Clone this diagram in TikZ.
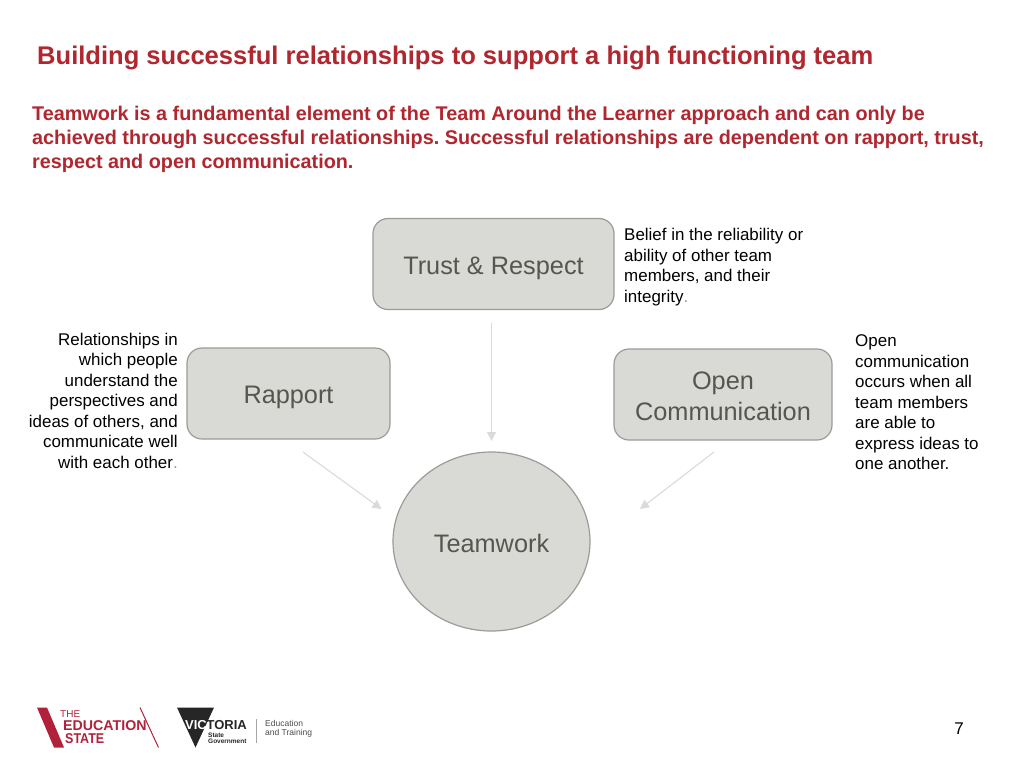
\documentclass[tikz,border=0pt]{standalone}
\usepackage{fontspec}
\setmainfont{Liberation Sans}
\newfontfamily\logonarrow[FakeStretch=0.88]{Liberation Sans}
\usetikzlibrary{arrows.meta}
\definecolor{tred}{HTML}{B0272F}
\definecolor{boxfill}{HTML}{D9DAD6}
\definecolor{boxline}{HTML}{9B9B98}
\definecolor{boxtext}{HTML}{54564F}
\definecolor{arrowc}{HTML}{DADBD8}
\definecolor{logored}{HTML}{B2213A}
\newcommand{\fs}[2]{\fontsize{#1pt}{#2pt}\selectfont}
\tikzset{
  x=1pt,y=-1pt,
  title/.style={anchor=base west,inner sep=0pt,text=tred,font=\bfseries\fs{25.55}{30}},
  lead/.style={anchor=base west,inner sep=0pt,text=tred,font=\bfseries\fs{19.8}{24}},
  rbox/.style={draw=boxline,line width=1.2pt,fill=boxfill,rounded corners=15pt,inner sep=0pt},
  boxlabel/.style={inner sep=0pt,text=boxtext,font=\fs{25.3}{30.5},anchor=base},
  note/.style={inner sep=0pt,text=black,font=\fs{16.95}{20.5}},
  conn/.style={draw=arrowc,line width=1.1pt,-{Triangle[length=9pt,width=9pt]}},
  logotext/.style={inner sep=0pt,anchor=base west},
}
\frenchspacing
\begin{document}
\begin{tikzpicture}
\useasboundingbox (0,0) rectangle (1024,768);
\fill[white] (0,0) rectangle (1024,768);
\node[title] (ttl) at (37,64) {Building successful relationships to support a high functioning team};
\node[lead] (l1) at (32,120) {Teamwork is a fundamental element of the Team Around the Learner approach and can only be};
\node[lead] (l2) at (32,144) {achieved through successful relationships. Successful relationships are dependent on rapport, trust,};
\node[lead] (l3) at (32,168) {respect and open communication.};

\node[rbox,minimum width=241pt,minimum height=91pt] (trust) at (493.5,264) {};
\node[boxlabel] (trustt) at (493.5,274) {Trust \& Respect};
\node[rbox,minimum width=203pt,minimum height=91pt] (rapport) at (288.5,393.5) {};
\node[boxlabel] (rappt) at (288.5,403) {Rapport};
\node[rbox,minimum width=218pt,minimum height=91pt] (open) at (723,394.5) {};
\node[boxlabel] (opent) at (723,389) {Open};
\node[boxlabel] (commt) at (723,420) {Communication};
\draw[boxline,line width=1.2pt,fill=boxfill] (491.5,541.5) ellipse [x radius=98.5,y radius=89.5];
\node[boxlabel] (team) at (491.5,552) {Teamwork};

\node[note,anchor=north west,align=left] (n1) at (624,228.5) {Belief in the reliability or\\ability of other team\\members, and their\\integrity{\color{boxline}.}};
\node[note,anchor=north east,align=right] (n2) at (178,333) {Relationships in\\which people\\understand the\\perspectives and\\ideas of others, and\\communicate well\\with each other{\color{boxline}.}};
\node[note,anchor=north west,align=left] (n3) at (855,334.5) {Open\\communication\\occurs when all\\team members\\are able to\\express ideas to\\one another.};

\coordinate (a1s) at (491.5,323);
\coordinate (a1e) at (491.5,441);
\coordinate (a2s) at (303,452);
\coordinate (a2e) at (381.5,509);
\coordinate (a3s) at (714,452);
\coordinate (a3e) at (640,509);
\draw[conn] (a1s) -- (a1e);
\draw[conn] (a2s) -- (a2e);
\draw[conn] (a3s) -- (a3e);

\node[inner sep=0pt,anchor=base,font=\fs{17}{17}] (pg) at (959,734) {7};

% Education State logo
\fill[logored] (37,707.5) -- (47,707.5) -- (64,747.5) -- (54,747.5) -- cycle;
\draw[logored,line width=1pt] (140,707.5) -- (158.5,747.5);
\node[logotext,text=logored,font=\fs{10}{11}] (lg1) at (60,717.5) {THE};
\node[logotext,text=logored,font=\bfseries\fs{14.2}{15}] (lg2) at (63,730.5) {EDUCATION};
\node[logotext,text=logored,font=\logonarrow\bfseries\fs{14.2}{15}] (lg3) at (65,743.5) {STATE};

% Victoria logo
\fill[black!85] (177,707.5) -- (214,707.5) -- (195.5,747.5) -- cycle;
\node[logotext,text=white,font=\bfseries\fs{13}{14}] (vic) at (185,729.5) {VIC};
\node[inner sep=0pt,anchor=base east,text=black!85,font=\bfseries\fs{13}{14}] (vic2) at (247,729.5) {TORIA};
\node[logotext,text=black!85,font=\bfseries\fs{6.5}{7}] (sg1) at (208,737.5) {State};
\node[logotext,text=black!85,font=\bfseries\fs{6.5}{7}] (sg2) at (208,743.5) {Government};
\draw[black!35,line width=.8pt] (256.7,719) -- (256.7,743);
\node[logotext,text=black!70,font=\fs{8.5}{11}] (et1) at (265,726) {Education};
\node[logotext,text=black!70,font=\fs{8.5}{11}] (et2) at (265,735) {and Training};
\end{tikzpicture}
\end{document}
